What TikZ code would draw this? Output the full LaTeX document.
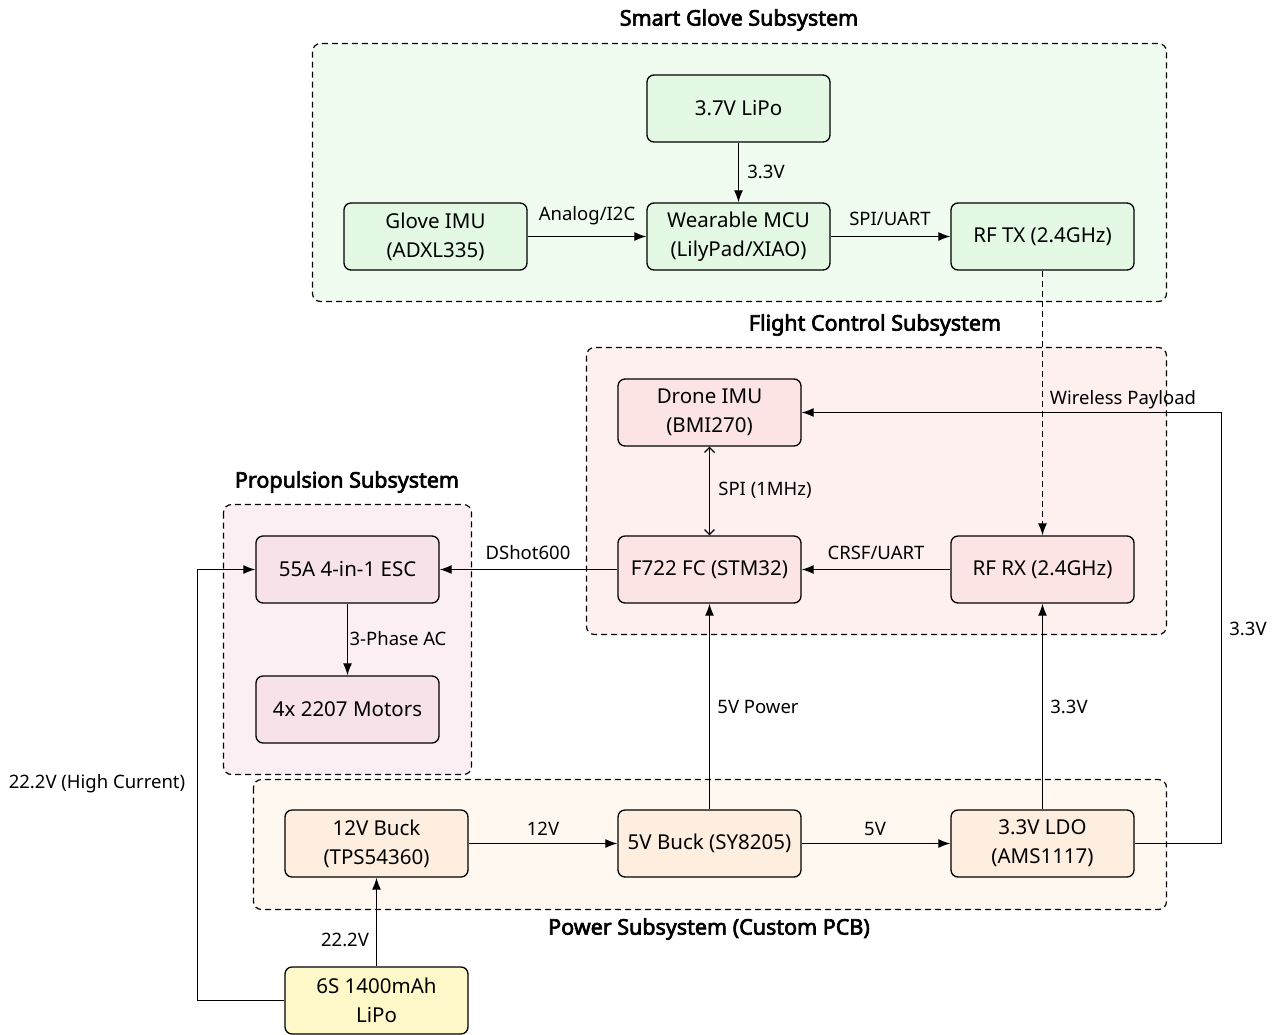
\documentclass[tikz,border=0pt]{standalone}
\usepackage{fontspec}
\setmainfont{Noto Sans}[AutoFakeBold=3]
\usetikzlibrary{arrows.meta}
\definecolor{gG}{HTML}{F0FCF0}
\definecolor{gB}{HTML}{E4F9E4}
\definecolor{fG}{HTML}{FFF0F0}
\definecolor{fB}{HTML}{FDE4E4}
\definecolor{pG}{HTML}{FCEFF4}
\definecolor{pB}{HTML}{F8E2EA}
\definecolor{wG}{HTML}{FFF8F0}
\definecolor{wB}{HTML}{FDEEDF}
\definecolor{yB}{HTML}{FFF8C8}
\begin{document}
\begin{tikzpicture}[x=1pt,y=-1pt,
  grp/.style={draw=black,line width=1.2pt,dash pattern=on 6pt off 4pt,rounded corners=8pt},
  blk/.style={draw=black,line width=1.3pt,rounded corners=7pt,minimum width=183pt,minimum height=67pt,align=center,font=\fontsize{20.5}{29}\selectfont,inner sep=0pt},
  ttl/.style={font=\fontsize{21.5}{25}\selectfont\bfseries},
  lbl/.style={font=\fontsize{18.5}{22}\selectfont,inner sep=0pt},
  con/.style={line width=1.2pt,-{Latex[length=12pt,width=9pt]}},
  bi/.style={line width=1.2pt,{Straight Barb[length=5pt,width=10pt]}-{Straight Barb[length=5pt,width=10pt]}}]
\useasboundingbox (0,0) rectangle (1279,1034);
% groups
\draw[grp,fill=gG] (312.5,43.5) rectangle (1166.5,301.5);
\draw[grp,fill=fG] (586.5,347.5) rectangle (1166.5,634.5);
\draw[grp,fill=pG] (223.5,504.5) rectangle (471.5,774.5);
\draw[grp,fill=wG] (253.5,779.5) rectangle (1166.5,909.5);
\node[ttl] (tg) at (739,20) {Smart Glove Subsystem};
\node[ttl] (tf) at (875,325) {Flight Control Subsystem};
\node[ttl] (tp) at (347,482) {Propulsion Subsystem};
\node[ttl] (tw) at (709,929) {Power Subsystem (Custom PCB)};
% blocks
\node[blk,fill=gB] (lipo) at (738.5,108.5) {3.7V LiPo};
\node[blk,fill=gB] (gimu) at (435.5,236.5) {Glove IMU\\(ADXL335)};
\node[blk,fill=gB] (mcu) at (738.5,236.5) {Wearable MCU\\(LilyPad/XIAO)};
\node[blk,fill=gB] (rftx) at (1042.5,236.5) {RF TX (2.4GHz)};
\node[blk,fill=fB] (dimu) at (709.5,412.5) {Drone IMU\\(BMI270)};
\node[blk,fill=fB] (fc) at (709.5,569.5) {F722 FC (STM32)};
\node[blk,fill=fB] (rfrx) at (1042.5,569.5) {RF RX (2.4GHz)};
\node[blk,fill=pB] (esc) at (347.5,569.5) {55A 4-in-1 ESC};
\node[blk,fill=pB] (mot) at (347.5,709.5) {4x 2207 Motors};
\node[blk,fill=wB] (b12) at (376.5,843.5) {12V Buck\\(TPS54360)};
\node[blk,fill=wB] (b5) at (709.5,843.5) {5V Buck (SY8205)};
\node[blk,fill=wB] (ldo) at (1042.5,843.5) {3.3V LDO\\(AMS1117)};
\node[blk,fill=yB] (bat) at (376.5,1000.5) {6S 1400mAh\\LiPo};
% connectors
\draw[con] (lipo) -- (mcu);
\node[lbl] (l1) at (766,172) {3.3V};
\draw[con] (gimu) -- (mcu);
\node[lbl] (l2) at (587,216) {Analog/I2C};
\draw[con] (mcu) -- (rftx);
\node[lbl] (l3) at (890,219) {SPI/UART};
\draw[con,dash pattern=on 6pt off 4pt] (rftx) -- (rfrx);
\node[lbl] (l4) at (1123,400) {Wireless Payload};
\draw[bi] (dimu) -- (fc);
\node[lbl] (l5) at (765,490) {SPI (1MHz)};
\draw[con] (rfrx) -- (fc);
\node[lbl] (l6) at (876,553) {CRSF/UART};
\draw[con] (fc) -- (esc);
\node[lbl] (l7) at (528,553) {DShot600};
\draw[con] (esc) -- (mot);
\node[lbl] (l8) at (398,639) {3-Phase AC};
\draw[con] (b5) -- (fc);
\node[lbl] (l9) at (758,707) {5V Power};
\draw[con] (ldo) -- (rfrx);
\node[lbl] (l10) at (1069,707) {3.3V};
\draw[con] (b12) -- (b5);
\node[lbl] (l11) at (543,829) {12V};
\draw[con] (b5) -- (ldo);
\node[lbl] (l12) at (875,829) {5V};
\coordinate (c1) at (1221.5,843.5);
\coordinate (c2) at (1221.5,412.5);
\draw[con] (ldo.east) -- (c1) -- (c2) -- (dimu.east);
\node[lbl] (l13) at (1248,629) {3.3V};
\draw[con] (bat) -- (b12);
\node[lbl] (l14) at (345,940) {22.2V};
\coordinate (c3) at (197.5,1000.5);
\coordinate (c4) at (197.5,569.5);
\draw[con] (bat.west) -- (c3) -- (c4) -- (esc.west);
\node[lbl] (l15) at (97,784) {22.2V (High Current)};
\end{tikzpicture}
\end{document}
